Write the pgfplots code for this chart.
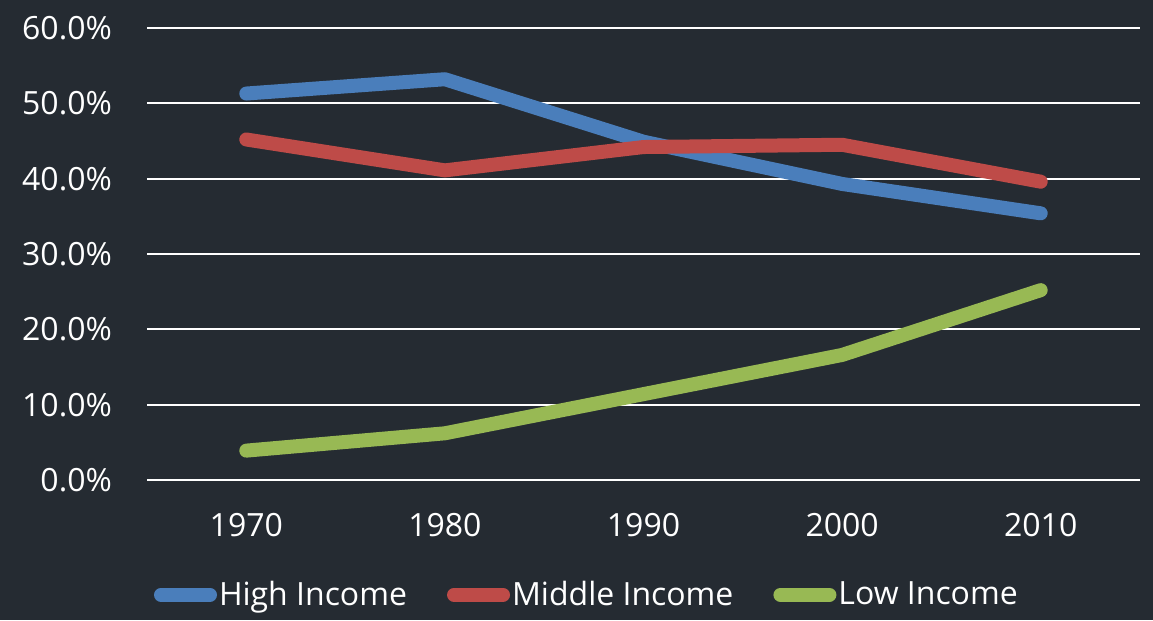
\documentclass[border=0pt]{standalone}
\usepackage{pgfplots}
\pgfplotsset{compat=1.18}
\usepackage{fontspec}
\setmainfont{Open Sans}
\usetikzlibrary{backgrounds}

\definecolor{bg}{HTML}{252B32}
\definecolor{hiblue}{HTML}{4A7EBB}
\definecolor{midred}{HTML}{BE4B48}
\definecolor{logreen}{HTML}{98B954}

\begin{document}
\begin{tikzpicture}
\begin{axis}[
    scale only axis,
    width=496.5pt, height=226pt,
    xmin=-0.5, xmax=4.5,
    ymin=0, ymax=60,
    xtick={0,1,2,3,4},
    xticklabels={1970,1980,1990,2000,2010},
    ytick={0,10,20,30,40,50,60},
    yticklabels={0.0\%,10.0\%,20.0\%,30.0\%,40.0\%,50.0\%,60.0\%},
    ymajorgrids,
    grid style={white, line width=0.9pt},
    axis line style={draw=none},
    tick style={draw=none},
    ticklabel style={font=\fontsize{16}{19}\selectfont, text=white},
    xticklabel style={yshift=-13pt},
    yticklabel style={xshift=-14pt},
    every axis plot/.append style={line width=7pt, line cap=round, line join=round, mark=none},
    legend columns=3,
    legend style={at={(0.443,-0.254)}, anchor=center, draw=none, fill=none,
        font=\fontsize{16}{19}\selectfont, text=white,
        nodes={inner sep=1pt},
        /tikz/every even column/.append style={column sep=19pt}},
    legend image code/.code={\draw[#1, line width=7pt, line cap=round] (3.5pt,0) -- (28pt,0);},
]
\addplot[hiblue] coordinates {(0,51.3) (1,53.2) (2,44.9) (3,39.3) (4,35.4)};
\addlegendentry{High Income}
\addplot[midred] coordinates {(0,45.2) (1,41.1) (2,44.2) (3,44.5) (4,39.6)};
\addlegendentry{Middle Income}
\addplot[logreen] coordinates {(0,3.9) (1,6.2) (2,11.4) (3,16.6) (4,25.2)};
\addlegendentry{Low Income}
\coordinate (sw) at (rel axis cs:0,0);
\coordinate (ne) at (rel axis cs:1,1);
\end{axis}
\begin{pgfonlayer}{background}
\fill[bg] ([xshift=-73.5pt,yshift=-70pt]sw) rectangle ([xshift=6.5pt,yshift=14pt]ne);
\end{pgfonlayer}
\end{tikzpicture}
\end{document}
